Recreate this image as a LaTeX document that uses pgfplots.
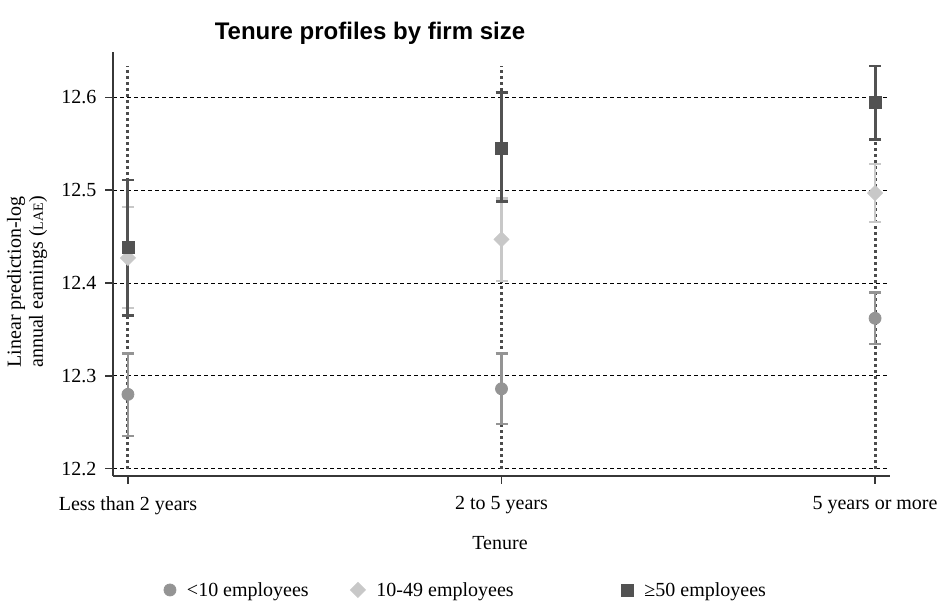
\documentclass[border=0pt]{standalone}
\usepackage{fontspec}
\setmainfont{Liberation Serif}
\newfontfamily\titlefont{Liberation Sans}
\usepackage{pgfplots}
\pgfplotsset{compat=1.18}
\usepackage{pgfplotstable}
\definecolor{cA}{RGB}{148,148,148}
\definecolor{cB}{RGB}{200,200,200}
\definecolor{cC}{RGB}{82,82,82}
\definecolor{cDot}{RGB}{75,75,75}
\definecolor{cAx}{RGB}{55,55,55}

\pgfplotstableread{
x y ep em
0 12.280 0.044 0.045
1 12.286 0.038 0.038
2 12.362 0.028 0.028
}\small
\pgfplotstableread{
x y ep em
0 12.427 0.055 0.054
1 12.447 0.044 0.045
2 12.497 0.031 0.031
}\mid
\pgfplotstableread{
x y ep em
0 12.438 0.073 0.073
1 12.545 0.060 0.057
2 12.595 0.039 0.040
}\large

\begin{document}
\begin{tikzpicture}
\useasboundingbox (-56.5pt,-62.5pt) rectangle (413.5pt,238pt);
\begin{axis}[
  scale only axis,
  width=388.5pt, height=212pt,
  xmin=-0.040, xmax=2.040,
  ymin=12.192, ymax=12.649,
  axis lines*=left,
  axis line style={cAx, line width=0.95pt},
  xtick={0,1,2},
  xticklabels={Less than 2 years, 2 to 5 years, 5 years or more},
  ytick={12.2,12.3,12.4,12.5,12.6},
  yticklabels={12.2,12.3,12.4,12.5,12.6},
  tick align=outside,
  major tick length=3.8pt,
  tick style={cAx, line width=0.8pt},
  ymajorgrids,
  grid style={black, line width=0.45pt, dash pattern=on 2pt off 1.5pt},
  tick label style={font=\fontsize{10}{12}\selectfont},
  /pgf/number format/assume math mode=true,
  yticklabel style={xshift=-1pt},
  xticklabel style={yshift=-3pt},
  clip=false,
  legend columns=3,
  legend style={draw=none, fill=none, inner sep=0pt, outer sep=0pt,
    anchor=west, at={(axis description cs:0.0656,-0.271)},
    font=\fontsize{10}{12}\selectfont,
    nodes={inner sep=0pt, anchor=base west},
    /tikz/every odd column/.append style={column sep=5.5pt},
    /tikz/every even column/.append style={column sep=0pt}},
  legend image code/.code={\draw[#1] plot coordinates {(0pt,3.2pt)};},
]
% vertical dotted range lines
\addplot[forget plot, cDot, line width=1.5pt, dash pattern=on 1.5pt off 1.5pt] coordinates {(0,12.2) (0,12.634)};
\addplot[forget plot, cDot, line width=1.5pt, dash pattern=on 1.5pt off 1.5pt] coordinates {(1,12.2) (1,12.634)};
\addplot[forget plot, cDot, line width=1.5pt, dash pattern=on 1.5pt off 1.5pt] coordinates {(2,12.2) (2,12.634)};

\addplot[only marks, mark=*, mark size=3pt, color=cA, mark options={fill=cA, draw=cA},
  error bars/.cd, y dir=both, y explicit,
  error bar style={cA, line width=1.25pt},
  error mark=|, error mark options={cA, line width=1.2pt, mark size=3pt}]
  table[x=x, y=y, y error plus=ep, y error minus=em] {\small};
\addlegendentry{\makebox[81.75pt][l]{<10 employees}}

\addplot[only marks, mark=square*, mark size=2.65pt, color=cB, mark options={fill=cB, draw=cB, rotate=45},
  error bars/.cd, y dir=both, y explicit,
  error bar style={cB, line width=1.25pt},
  error mark=|, error mark options={cB, line width=1.2pt, mark size=3pt}]
  table[x=x, y=y, y error plus=ep, y error minus=em] {\mid};
\addlegendentry{\makebox[122.5pt][l]{10-49 employees}}

\addplot[only marks, mark=square*, mark size=3pt, color=cC, mark options={fill=cC, draw=cC},
  error bars/.cd, y dir=both, y explicit,
  error bar style={cC, line width=1.5pt},
  error mark=|, error mark options={cC, line width=1.4pt, mark size=3pt}]
  table[x=x, y=y, y error plus=ep, y error minus=em] {\large};
\addlegendentry{≥50 employees}
\end{axis}
\node[font=\titlefont\bfseries\fontsize{12}{14}\selectfont] at (128.5pt,221.5pt) {Tenure profiles by firm size};
\node[font=\fontsize{10}{12}\selectfont] at (193.5pt,-33.5pt) {Tenure};
\node[rotate=90, align=center, font=\fontsize{10}{11}\selectfont] at (-43pt,97pt) {Linear prediction-log\\annual earnings ({\fontsize{7}{8}\selectfont LAE})};
\end{tikzpicture}
\end{document}
